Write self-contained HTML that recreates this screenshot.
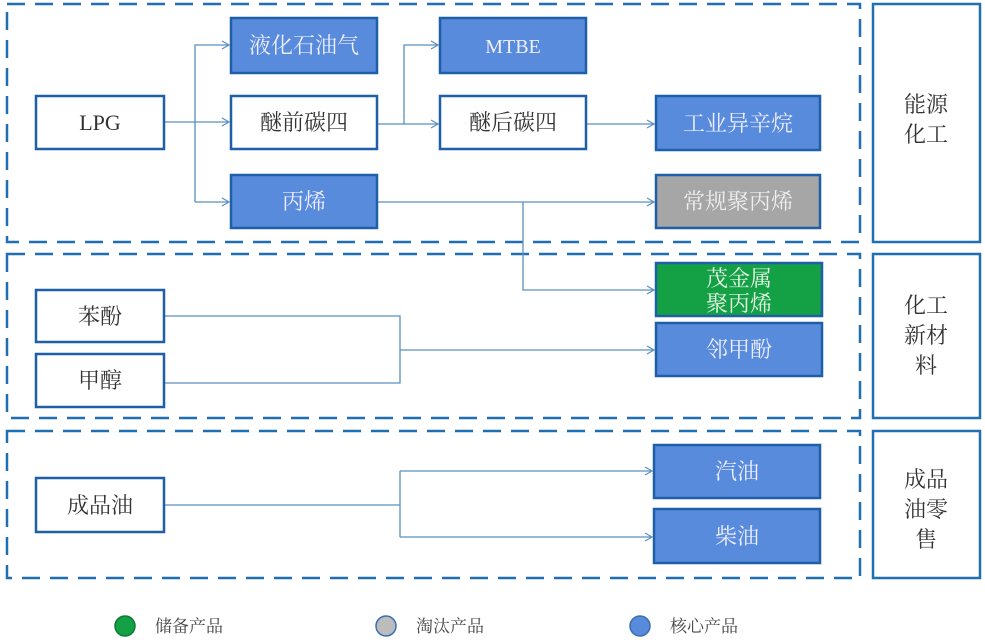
<!DOCTYPE html>
<html><head><meta charset="utf-8"><style>
html,body{margin:0;padding:0;background:#fff;}
svg{display:block;}
text{font-family:"Liberation Serif","Noto Serif CJK SC",serif;}
</style></head><body>
<svg width="985" height="640" viewBox="0 0 985 640" xmlns="http://www.w3.org/2000/svg">
<defs>
<marker id="a" markerWidth="10" markerHeight="10" refX="8" refY="5" orient="auto" markerUnits="userSpaceOnUse">
<path d="M1,1 L8,5 L1,9" fill="none" stroke="#5b8fc0" stroke-width="1.2"/>
</marker>
</defs>
<g fill="none" stroke="#1f6fb2" stroke-width="2.5" stroke-dasharray="18,10">
<rect x="7" y="4" width="853" height="238"/>
<rect x="7" y="254" width="853" height="164"/>
<rect x="7" y="431" width="853" height="147"/>
</g>
<g fill="#fff" stroke="#1f6fb2" stroke-width="2.5">
<rect x="873" y="4" width="107" height="238"/>
<rect x="873" y="254" width="107" height="164"/>
<rect x="873" y="431" width="107" height="147"/>
</g>
<g font-size="22" fill="#333" text-anchor="middle">
<text x="926" y="112">能源</text><text x="926" y="142">化工</text>
<text x="926" y="313">化工</text><text x="926" y="343">新材</text><text x="926" y="373">料</text>
<text x="926" y="487">成品</text><text x="926" y="517">油零</text><text x="926" y="547">售</text>
</g>
<g fill="none" stroke="#5b8fc0" stroke-width="1.3">
<path d="M164,122 H229" marker-end="url(#a)"/>
<path d="M195,202 V45 H229" marker-end="url(#a)"/>
<path d="M195,202 H229" marker-end="url(#a)"/>
<path d="M377,124 H438" marker-end="url(#a)"/>
<path d="M404,124 V45 H438" marker-end="url(#a)"/>
<path d="M586,124 H654" marker-end="url(#a)"/>
<path d="M377,202 H654" marker-end="url(#a)"/>
<path d="M523,202 V290 H654" marker-end="url(#a)"/>
<path d="M164,316 H400 V383 H164"/>
<path d="M400,350 H654" marker-end="url(#a)"/>
<path d="M164,505 H400"/>
<path d="M400,471 V537"/>
<path d="M400,471 H652" marker-end="url(#a)"/>
<path d="M400,537 H652" marker-end="url(#a)"/>
</g>
<g stroke="#1f5fa8" stroke-width="2.5">
<rect x="231" y="18" width="146" height="55" fill="#588bdc"/>
<rect x="36" y="96" width="128" height="53" fill="#fff"/>
<rect x="231" y="96" width="146" height="53" fill="#fff"/>
<rect x="231" y="175" width="146" height="53" fill="#588bdc"/>
<rect x="440" y="18" width="146" height="55" fill="#588bdc"/>
<rect x="440" y="96" width="146" height="53" fill="#fff"/>
<rect x="656" y="96" width="164" height="54" fill="#588bdc"/>
<rect x="656" y="175" width="164" height="53" fill="#a6a6a6"/>
<rect x="656" y="263" width="166" height="53" fill="#14a045"/>
<rect x="656" y="323" width="166" height="53" fill="#588bdc"/>
<rect x="36" y="290" width="128" height="52" fill="#fff"/>
<rect x="36" y="354" width="128" height="53" fill="#fff"/>
<rect x="36" y="478" width="128" height="54" fill="#fff"/>
<rect x="654" y="445" width="166" height="53" fill="#588bdc"/>
<rect x="654" y="509" width="166" height="54" fill="#588bdc"/>
</g>
<g font-size="22" text-anchor="middle">
<text x="304" y="53" fill="#eef">液化石油气</text>
<text x="100" y="130" fill="#333">LPG</text>
<text x="304" y="130" fill="#333">醚前碳四</text>
<text x="304" y="209" fill="#eef">丙烯</text>
<text x="513" y="53" fill="#eef" font-size="20">MTBE</text>
<text x="513" y="130" fill="#333">醚后碳四</text>
<text x="738" y="131" fill="#eef">工业异辛烷</text>
<text x="738" y="209" fill="#eee">常规聚丙烯</text>
<text x="739" y="286" fill="#e6f5e6">茂金属</text>
<text x="739" y="311" fill="#e6f5e6">聚丙烯</text>
<text x="739" y="357" fill="#eef">邻甲酚</text>
<text x="100" y="324" fill="#333">苯酚</text>
<text x="100" y="388" fill="#333">甲醇</text>
<text x="100" y="513" fill="#333">成品油</text>
<text x="737" y="479" fill="#eef">汽油</text>
<text x="737" y="544" fill="#eef">柴油</text>
</g>
<circle cx="125" cy="626" r="10" fill="#14a045" stroke="#0e7a35" stroke-width="1.5"/>
<circle cx="386" cy="626" r="10" fill="#bcbcbc" stroke="#3a6fb0" stroke-width="1.5"/>
<circle cx="640" cy="626" r="10" fill="#588bdc" stroke="#3a6fb0" stroke-width="1.5"/>
<g font-size="17" fill="#444">
<text x="155" y="632">储备产品</text>
<text x="416" y="632">淘汰产品</text>
<text x="670" y="632">核心产品</text>
</g>
</svg>
</body></html>
